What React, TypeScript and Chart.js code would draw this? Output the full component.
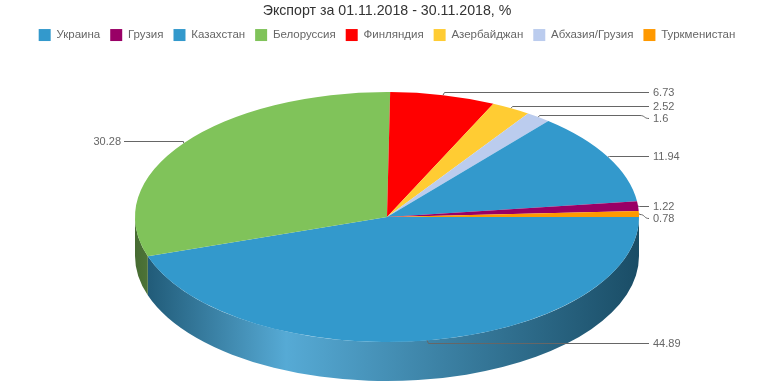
import { useEffect, useRef } from 'react';
import { Chart, registerables } from 'chart.js';

Chart.register(...registerables);

const TITLE = 'Экспорт за 01.11.2018 - 30.11.2018, %';

// slices in drawing order (clockwise from 3 o'clock)
const sliceLabels = ['Украина', 'Белоруссия', 'Финляндия', 'Азербайджан', 'Абхазия/Грузия', 'Казахстан', 'Грузия', 'Туркменистан'];
const sliceValues = [44.89, 30.28, 6.73, 2.52, 1.6, 11.94, 1.22, 0.78];
const sliceColors = ['#3399cc', '#80c35a', '#ff0000', '#ffcc33', '#bbccee', '#3399cc', '#990066', '#ff9900'];

// legend order
const legendOrder = ['Украина', 'Грузия', 'Казахстан', 'Белоруссия', 'Финляндия', 'Азербайджан', 'Абхазия/Грузия', 'Туркменистан'];

const FONT = '"Liberation Sans", Arial, Helvetica, sans-serif';
const PIE_RADIUS = 125;
const X_STRETCH = 2.016;
const DEPTH = 39;

function hexToRgb(hex: string) {
  const h = hex.replace('#', '');
  return [parseInt(h.slice(0, 2), 16), parseInt(h.slice(2, 4), 16), parseInt(h.slice(4, 6), 16)];
}
function shade(hex: string, f: number) {
  const [r, g, b] = hexToRgb(hex);
  return `rgb(${Math.round(r * f)},${Math.round(g * f)},${Math.round(b * f)})`;
}
function tint(hex: string, f: number) {
  const [r, g, b] = hexToRgb(hex);
  return `rgb(${Math.round(r + (255 - r) * f)},${Math.round(g + (255 - g) * f)},${Math.round(b + (255 - b) * f)})`;
}

const pie3d = {
  id: 'pie3d',
  beforeDatasetsDraw(chart: any) {
    const meta = chart.getDatasetMeta(0);
    const arcs = meta.data;
    const ctx = chart.ctx;
    ctx.save();
    if (!arcs.length) return;
    const { x: cx, y: cy, outerRadius: r } = arcs[0].getProps(['x', 'y', 'outerRadius'], true);
    ctx.translate(cx, cy);
    ctx.scale(X_STRETCH, 1);
    ctx.translate(-cx, -cy);
    arcs.forEach((arc: any, i: number) => {
      const { startAngle, endAngle } = arc.getProps(['startAngle', 'endAngle'], true);
      const lo = Math.max(startAngle, 0);
      const hi = Math.min(endAngle, Math.PI);
      if (hi <= lo) return;
      const color = sliceColors[i];
      const g = ctx.createLinearGradient(cx - r, 0, cx + r, 0);
      g.addColorStop(0, shade(color, 0.55));
      g.addColorStop(0.3, tint(color, 0.17));
      g.addColorStop(1, shade(color, 0.5));
      ctx.beginPath();
      ctx.arc(cx, cy, r, lo, hi);
      ctx.arc(cx, cy + DEPTH, r, hi, lo, true);
      ctx.closePath();
      ctx.fillStyle = g;
      ctx.fill();
    });
  },
  afterDatasetsDraw(chart: any) {
    const ctx = chart.ctx;
    ctx.restore();
    const meta = chart.getDatasetMeta(0);
    const arcs = meta.data;
    if (!arcs.length) return;
    const { x: cx, y: cy, outerRadius: r } = arcs[0].getProps(['x', 'y', 'outerRadius'], true);
    const rx = r * X_STRETCH;
    const items = arcs.map((arc: any, i: number) => {
      const { startAngle, endAngle } = arc.getProps(['startAngle', 'endAngle'], true);
      const a = (startAngle + endAngle) / 2;
      const ex = cx + rx * Math.cos(a);
      const ey = cy + r * Math.sin(a);
      const right = Math.cos(a) >= 0;
      const target = cy + (r + 3) * Math.sin(a);
      return { i, ex, ey, right, target, y: target, text: String(sliceValues[i]) };
    });
    [true, false].forEach((side) => {
      const list = items.filter((it: any) => it.right === side).sort((p: any, q: any) => p.target - q.target);
      let prev = -Infinity;
      list.forEach((it: any) => {
        it.y = Math.max(it.target, prev + 12);
        prev = it.y;
      });
    });
    ctx.save();
    ctx.strokeStyle = '#666666';
    ctx.lineWidth = 1;
    ctx.fillStyle = '#666666';
    ctx.font = `11px ${FONT}`;
    ctx.textBaseline = 'middle';
    items.forEach((it: any) => {
      const dir = it.right ? 1 : -1;
      const textX = it.right ? cx + rx + 14 : cx - rx - 14;
      const lineEnd = it.right ? textX - 4 : textX + 3;
      const ty = Math.round(it.target) + 0.5;
      const ly = Math.round(it.y) + 0.5;
      ctx.beginPath();
      ctx.moveTo(it.ex, it.ey);
      ctx.lineTo(Math.round(it.ex) + 0.5 + dir, ty);
      if (Math.abs(ly - ty) > 0.5) {
        ctx.lineTo(lineEnd - dir * 9, ty);
        ctx.bezierCurveTo(lineEnd - dir * 4, ty, lineEnd - dir * 5, ly, lineEnd, ly);
      } else {
        ctx.lineTo(lineEnd, ly);
      }
      ctx.stroke();
      ctx.textAlign = it.right ? 'left' : 'right';
      ctx.fillText(it.text, textX, ly);
    });
    ctx.restore();
  },
};

export default function App() {
  const canvasRef = useRef<HTMLCanvasElement | null>(null);

  useEffect(() => {
    document.body.style.margin = '0';
    const canvas = canvasRef.current;
    if (!canvas) return;
    const chart = new Chart(canvas, {
      type: 'pie',
      data: {
        labels: sliceLabels,
        datasets: [
          {
            data: sliceValues,
            backgroundColor: sliceColors,
            borderWidth: 0,
            radius: PIE_RADIUS,
          } as any,
        ],
      },
      plugins: [pie3d as any],
      options: {
        animation: false,
        responsive: true,
        maintainAspectRatio: false,
        events: [],
        rotation: 90,
        layout: { padding: { top: 0, bottom: 4, left: 0, right: 0 } },
        plugins: {
          title: {
            display: true,
            text: TITLE,
            color: '#333333',
            font: { family: FONT, size: 14.2, weight: 'normal' as any },
            padding: { top: 3, bottom: -1 },
          },
          legend: {
            display: true,
            position: 'top',
            labels: {
              boxWidth: 12,
              boxHeight: 12,
              padding: 10,
              color: '#666666',
              font: { family: FONT, size: 11.5 },
              sort: (a: any, b: any) => legendOrder.indexOf(a.text) - legendOrder.indexOf(b.text),
            },
          },
          tooltip: { enabled: false },
        },
      },
    });
    return () => chart.destroy();
  }, []);

  return (
    <div style={{ position: 'absolute', left: 0, top: 0, width: 774, height: 387 }}>
      <canvas ref={canvasRef} />
    </div>
  );
}
